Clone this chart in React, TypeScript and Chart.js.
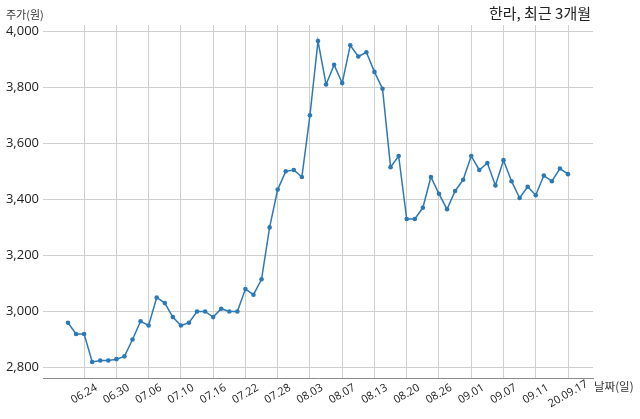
import { useEffect, useRef } from 'react';
import { Chart, registerables } from 'chart.js';

Chart.register(...registerables);

const dates: string[] = [
  '06.22', '06.23', '06.24', '06.25', '06.26', '06.29', '06.30',
  '07.01', '07.02', '07.03', '07.06', '07.07', '07.08', '07.09', '07.10',
  '07.13', '07.14', '07.15', '07.16', '07.17', '07.20', '07.21', '07.22',
  '07.23', '07.24', '07.27', '07.28', '07.29', '07.30', '07.31',
  '08.03', '08.04', '08.05', '08.06', '08.07', '08.10', '08.11', '08.12',
  '08.13', '08.14', '08.18', '08.19', '08.20', '08.21', '08.24', '08.25',
  '08.26', '08.27', '08.28', '08.31',
  '09.01', '09.02', '09.03', '09.04', '09.07', '09.08', '09.09', '09.10',
  '09.11', '09.14', '09.15', '09.16', '20.09.17',
];

const prices: number[] = [
  2960, 2920, 2920, 2820, 2825, 2825, 2830, 2840, 2900, 2965,
  2950, 3050, 3030, 2980, 2950, 2960, 3000, 3000, 2980, 3010,
  3000, 3000, 3080, 3060, 3115, 3300, 3435, 3500, 3505, 3480,
  3700, 3965, 3810, 3880, 3815, 3950, 3910, 3925, 3855, 3795,
  3515, 3555, 3330, 3330, 3370, 3480, 3420, 3365, 3430, 3470,
  3555, 3505, 3530, 3450, 3540, 3465, 3405, 3445, 3415, 3485,
  3465, 3510, 3490,
];

const xTickLabels: string[] = [
  '06.24', '06.30', '07.06', '07.10', '07.16', '07.22', '07.28', '08.03',
  '08.07', '08.13', '08.20', '08.26', '09.01', '09.07', '09.11', '20.09.17',
];

const yTicks: number[] = [2800, 3000, 3200, 3400, 3600, 3800, 4000];

const title = '한라, 최근 3개월';
const yTitle = '주가(원)';
const xTitle = '날짜(일)';

const LINE = '#2d79b5';
const GRID = '#cfcfcf';
const KFONT = '"Noto Sans CJK KR", "Noto Sans", sans-serif';
const NFONT = '"Open Sans", "Noto Sans", sans-serif';

export default function App() {
  const ref = useRef<HTMLCanvasElement | null>(null);

  useEffect(() => {
    if (!ref.current) return;
    const tickIdx = xTickLabels.map((l) => dates.indexOf(l));
    const ymin = Math.min(...prices);
    const ymax = Math.max(...prices);
    const yr = ymax - ymin;
    const n = prices.length - 1;

    const textPlugin = {
      id: 'texts',
      beforeDraw(chart: any) {
        const sx = chart.scales.x;
        const items = sx.getLabelItems(chart.chartArea);
        items.forEach((it: any, i: number) => {
          const v = sx.ticks[i] ? sx.ticks[i].value : tickIdx[i];
          const px = sx.getPixelForValue(v);
          it.options.translation = [px, chart.chartArea.bottom + 16];
          it.options.textAlign = 'center';
          it.options.textBaseline = 'middle';
          it.textOffset = 0;
        });
      },
      afterDraw(chart: any) {
        const ctx = chart.ctx;
        ctx.save();
        ctx.fillStyle = '#222';
        ctx.textBaseline = 'middle';
        ctx.font = `15px ${KFONT}`;
        ctx.textAlign = 'right';
        ctx.fillText(title, 591, 13);
        ctx.font = `11px ${KFONT}`;
        ctx.textAlign = 'left';
        ctx.fillStyle = '#333';
        ctx.fillText(yTitle, 6, 15);
        ctx.font = `11.5px ${KFONT}`;
        ctx.fillText(xTitle, 594, 387);
        ctx.restore();
      },
    };

    const chart = new Chart(ref.current, {
      type: 'line',
      data: {
        datasets: [
          {
            data: prices.map((v, i) => ({ x: i, y: v })),
            borderColor: LINE,
            backgroundColor: LINE,
            borderWidth: 1.5,
            pointRadius: 2.3,
            pointBorderWidth: 0,
            pointBackgroundColor: LINE,
            tension: 0,
          },
        ],
      },
      options: {
        animation: false,
        responsive: false,
        layout: { padding: { top: 25, right: 47, left: 0, bottom: 0 } },
        plugins: { legend: { display: false }, tooltip: { enabled: false } },
        scales: {
          x: {
            type: 'linear',
            min: -0.05 * n,
            max: n + 0.05 * n,
            afterBuildTicks: (s: any) => {
              s.ticks = tickIdx.map((v) => ({ value: v }));
            },
            afterFit: (s: any) => {
              s.height = 41;
            },
            ticks: {
              autoSkip: false,
              minRotation: 30,
              maxRotation: 30,
              color: '#222',
              font: { family: NFONT, size: 11 },
              callback: (v: any) => dates[Math.round(Number(v))],
            },
            grid: { color: GRID, drawTicks: false, lineWidth: 1 },
            border: { display: true, color: '#8a8a8a', width: 1 },
          },
          y: {
            type: 'linear',
            min: ymin - 0.05 * yr,
            max: ymax + 0.05 * yr,
            afterBuildTicks: (s: any) => {
              s.ticks = yTicks.map((v) => ({ value: v }));
            },
            afterFit: (s: any) => {
              s.width = 43;
            },
            ticks: {
              padding: 4,
              color: '#222',
              font: { family: NFONT, size: 13 },
              callback: (v: any) => Number(v).toLocaleString('en-US'),
            },
            grid: { color: GRID, drawTicks: false, lineWidth: 1 },
            border: { display: false },
          },
        },
      },
      plugins: [textPlugin],
    });
    return () => chart.destroy();
  }, []);

  return (
    <div style={{ position: 'fixed', left: 0, top: 0, width: 640, height: 419, background: '#fff' }}>
      <canvas ref={ref} width={640} height={419} style={{ display: 'block' }} />
    </div>
  );
}
